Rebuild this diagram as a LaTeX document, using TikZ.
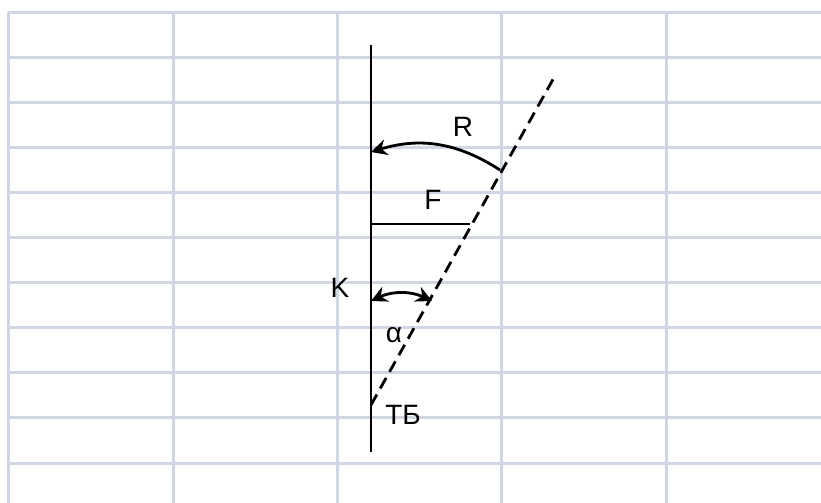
\documentclass[tikz,border=0pt]{standalone}
\usepackage{fontspec}
\setmainfont{Liberation Sans}
\usetikzlibrary{arrows.meta,calc}

\begin{document}
\begin{tikzpicture}[x=0.5pt,y=-0.5pt,
	gridline/.style={line width=1.5pt,color={rgb,255:red,208;green,214;blue,228}},
	axis/.style={line width=1.4pt},
	ray/.style={line width=1.4pt,dash pattern=on 6pt off 3.5pt},
	tip/.style={-{Stealth[length=8pt,width=8pt]}},
	lbl/.style={font=\fontsize{14}{16}\selectfont,inner sep=0pt}]
\useasboundingbox (0,0) rectangle (821,503);

% spreadsheet grid
\foreach \x in {8,173,337,501,666}
    \draw[gridline] (\x,12) -- (\x,503);
\foreach \k in {0,...,10}
    \draw[gridline] (8,{12+45.1*\k}) -- (821,{12+45.1*\k});

\coordinate (top) at (371,45);
\coordinate (bot) at (371,452);
\coordinate (tb) at (371,405);
\coordinate (dend) at (556,74);
\coordinate (rfoot) at (500,170);
\coordinate (rhead) at (371,152);
\coordinate (fstart) at (371,224);
\coordinate (fend) at (470,224);
\coordinate (kl) at (371,301);
\coordinate (kr) at (432,301);

\node[lbl] (k) at (340,288) {K};
\node[lbl] (r) at (463,127) {R};
\node[lbl] (f) at (433,200) {F};
\node[lbl] (a) at (394,335) {α};
\node[lbl] (t) at (403,415) {ТБ};

\draw[axis] (top) -- (bot);
\draw[ray] (tb) -- (dend);
\draw[axis] (fstart) -- (fend);
\draw[axis,tip] (rfoot) to[bend right=25] (rhead);
\draw[axis,{Stealth[length=8pt,width=8pt]}-{Stealth[length=8pt,width=8pt]}] (kl) to[bend left=25] (kr);

\end{tikzpicture}
\end{document}
